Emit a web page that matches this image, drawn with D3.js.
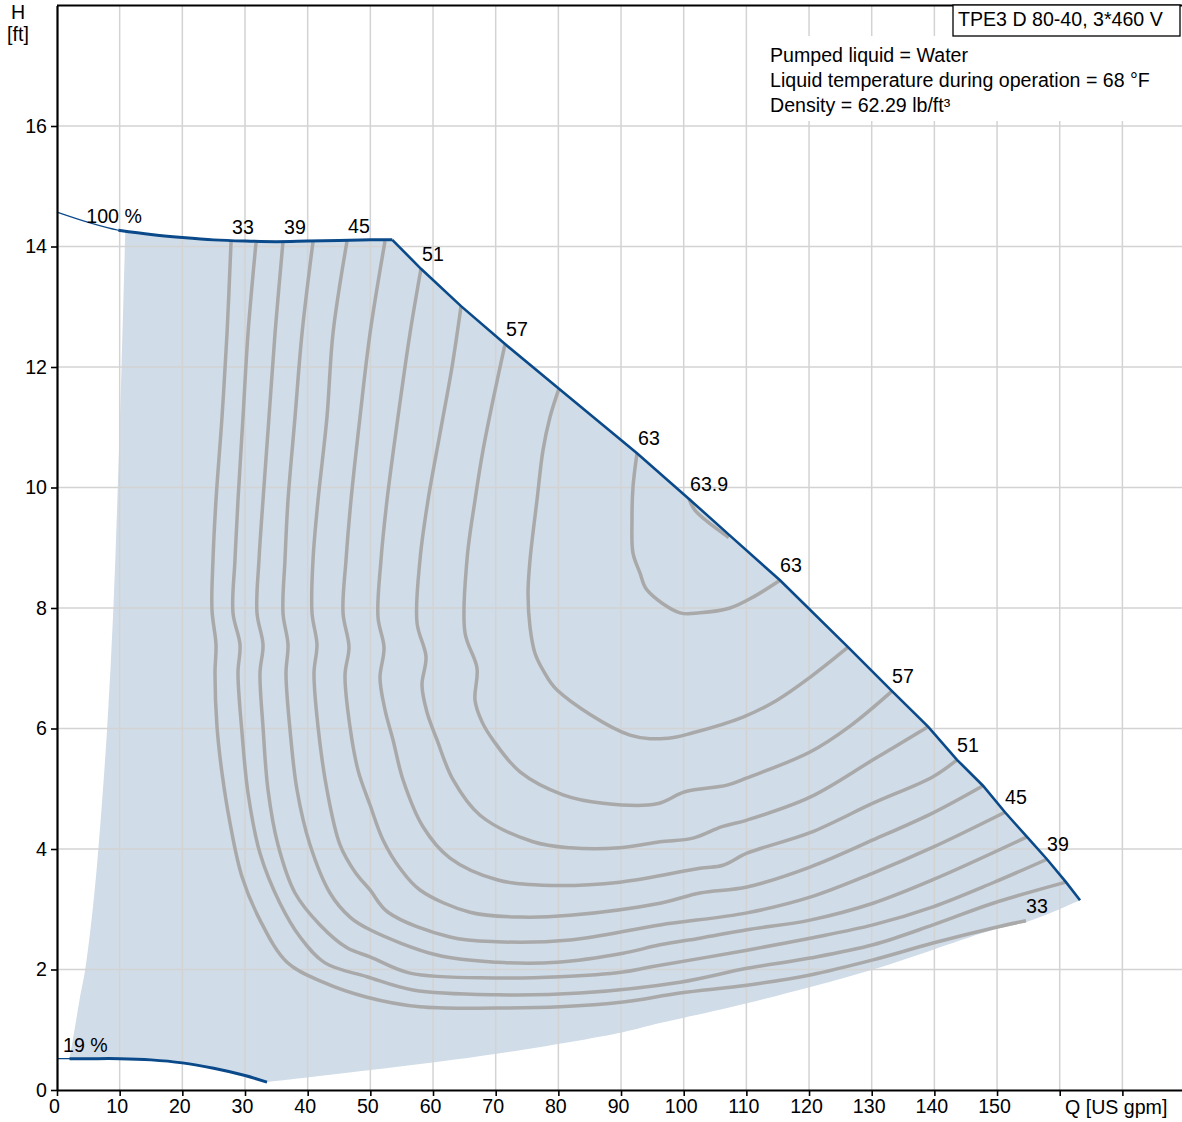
<!DOCTYPE html>
<html><head><meta charset="utf-8">
<script src="https://cdn.jsdelivr.net/npm/d3@7"></script>
<style>
html,body{margin:0;padding:0;background:#fff;}
svg{display:block;font-family:"Liberation Sans",Arial,sans-serif;}
</style></head><body>
<svg id="chart" width="1182" height="1122"></svg>
<script>
// ---------- data ----------
const xTicks = [0,10,20,30,40,50,60,70,80,90,100,110,120,130,140,150,160,170];
const xTickLabels = ["0","10","20","30","40","50","60","70","80","90","100","110","120","130","140","150","",""];
const yTicks = [0,2,4,6,8,10,12,14,16];
const xGrid = [10,20,30,40,50,60,70,80,90,100,110,120,130,140,150,160,170];
const yGrid = [2,4,6,8,10,12,14,16];

// 100 % speed curve (Q [US gpm], H [ft])
const speed100 = [[0,14.57],[5,14.40],[9.8,14.27],[15,14.20],[20,14.15],[25,14.11],[30,14.09],[35,14.08],[40,14.09],[45,14.10],[50,14.11],[53.5,14.11]];
// max power limit
const maxLimit = [[53.5,14.11],[58.08,13.63],[64.47,13.01],[71.49,12.38],[80.10,11.64],[92.55,10.57],[100.85,9.81],[107.07,9.23],[115.37,8.46],[126.22,7.35],[133.24,6.62],[138.99,6.03],[143.61,5.48],[147.76,5.05],[151.27,4.61],[154.78,4.20],[157.97,3.83],[161.00,3.45],[163.24,3.15]];
// 19 % speed curve
const speed19 = [[0,0.52],[2,0.52],[5,0.52],[10,0.52],[15,0.50],[20,0.45],[25,0.36],[30,0.24],[33.5,0.13]];
// minimum flow edge of operating area (bottom to top)
const minFlow = [[2.0,0.52],[2.8,1.0],[3.6,1.5],[4.5,2.0],[5.7,3.0],[6.6,4.0],[8.0,6.0],[9.0,8.0],[9.7,10.0],[10.3,12.0],[10.9,14.25]];
// lower edge of operating area (right to left)
const lowerEdge = [[163.24,3.15],[155,2.80],[149.4,2.66],[130.2,2.00],[110.1,1.44],[96.2,1.11],[90.3,0.96],[70.7,0.61],[50,0.33],[33.5,0.13]];

// efficiency contours [%]
const eff33 = [[27.77,14.08],[27.13,12.56],[26.33,11.17],[25.37,9.79],[24.89,8.80],[24.73,7.97],[25.37,7.39],[25.21,6.92],[25.53,6.03],[26.33,5.26],[27.61,4.43],[29.52,3.54],[32.39,2.82],[36.70,2.12],[42.45,1.79],[49.47,1.54],[57.92,1.38],[70.21,1.36],[80.26,1.38],[90.32,1.46],[99.41,1.61],[110.10,1.74],[120.16,1.91],[130.21,2.16],[139.78,2.44],[149.36,2.69],[154.62,2.81]];
const eff36 = [[31.75,14.06],[30.48,12.56],[29.68,11.17],[28.88,9.79],[28.40,8.80],[28.08,7.92],[29.20,7.39],[28.88,6.92],[29.52,5.93],[30.48,4.93],[32.39,3.93],[35.58,3.10],[38.78,2.54],[42.76,2.11],[49.47,1.88],[56.81,1.66],[70.21,1.58],[83.46,1.61],[99.41,1.79],[110.10,2.02],[120.16,2.19],[130.21,2.41],[139.78,2.74],[149.36,3.10],[161.00,3.45]];
const eff39 = [[36.06,14.08],[34.79,12.56],[33.83,11.17],[32.87,9.79],[32.23,8.80],[31.91,7.92],[32.87,7.39],[32.39,6.92],[32.87,6.03],[33.67,4.98],[35.26,4.07],[37.98,3.27],[41.97,2.74],[46.28,2.36],[49.95,2.21],[56.33,1.94],[70.21,1.86],[80.26,1.88],[90.32,1.96],[94.62,2.04],[110.10,2.32],[120.16,2.52],[130.21,2.74],[139.78,3.04],[149.36,3.44],[157.97,3.83]];
const eff42 = [[40.85,14.08],[39.10,12.56],[37.98,11.17],[36.86,9.79],[36.38,8.80],[36.06,7.92],[36.86,7.39],[36.54,6.92],[37.18,5.98],[38.30,4.98],[40.37,4.07],[43.56,3.27],[46.75,2.87],[49.95,2.66],[60.64,2.24],[70.21,2.12],[79.79,2.12],[90.32,2.27],[96.22,2.41],[102.60,2.52],[110.10,2.66],[120.16,2.82],[130.21,3.10],[139.78,3.49],[154.78,4.20]];
const eff45 = [[46.28,14.09],[44.04,12.56],[43.08,11.17],[41.65,9.79],[40.85,8.80],[40.69,7.92],[41.48,7.39],[41.01,6.92],[41.65,6.03],[43.08,4.98],[45.16,4.07],[47.55,3.62],[49.95,3.32],[52.82,2.95],[62.71,2.54],[70.21,2.46],[81.86,2.49],[96.22,2.74],[110.10,2.94],[120.16,3.20],[130.21,3.60],[139.78,4.03],[151.27,4.61]];
const eff48 = [[52.34,14.09],[49.95,12.56],[48.35,11.17],[46.91,9.79],[46.12,8.80],[45.64,7.92],[46.59,7.35],[45.96,6.89],[46.75,6.03],[48.03,5.31],[49.95,4.73],[52.02,4.15],[54.73,3.68],[57.92,3.32],[65.90,2.95],[73.88,2.87],[81.86,2.90],[96.22,3.10],[102.60,3.27],[110.10,3.37],[120.16,3.70],[130.21,4.15],[139.78,4.60],[147.76,5.05]];
const eff51 = [[58.08,13.63],[56.33,12.56],[54.41,11.17],[52.66,9.79],[51.70,8.80],[51.22,7.85],[52.18,7.34],[51.54,6.84],[52.34,6.31],[53.62,5.81],[55.21,5.15],[58.40,4.37],[62.71,3.85],[70.21,3.49],[77.55,3.40],[89.84,3.45],[102.60,3.68],[106.27,3.73],[110.10,3.93],[120.16,4.27],[130.21,4.76],[139.78,5.20],[143.61,5.48]];
const eff54 = [[64.47,13.01],[63.03,12.00],[61.12,10.90],[59.20,9.79],[57.92,8.80],[57.45,7.75],[58.88,7.19],[58.24,6.72],[59.04,6.27],[60.64,5.81],[63.19,5.15],[67.50,4.56],[75.96,4.12],[81.86,4.02],[89.84,4.02],[96.22,4.12],[101.49,4.18],[106.11,4.37],[110.10,4.48],[120.16,4.86],[130.21,5.48],[138.99,6.03]];
const eff57 = [[71.49,12.38],[69.57,11.45],[67.98,10.62],[66.70,9.79],[65.42,8.80],[65.10,7.59],[67.02,7.00],[66.70,6.47],[67.82,6.11],[69.57,5.81],[73.88,5.28],[80.74,4.90],[87.13,4.76],[95.74,4.75],[100.21,4.95],[106.91,5.06],[110.10,5.18],[120.16,5.61],[126.54,6.04],[133.24,6.62]];
const eff60 = [[80.10,11.64],[78.67,11.17],[77.55,10.62],[76.59,9.79],[75.48,8.80],[75.16,8.25],[75.48,7.68],[76.27,7.25],[77.55,6.97],[79.79,6.64],[91.43,5.89],[97.50,5.84],[101.49,5.93],[109.47,6.19],[114.89,6.47],[120.16,6.85],[126.22,7.35]];
const eff63 = [[92.55,10.57],[91.91,10.01],[91.75,9.46],[91.91,8.91],[93.03,8.58],[94.14,8.30],[99.41,7.92],[102.60,7.92],[107.39,8.00],[111.06,8.18],[115.37,8.46]];
const eff639 = [[100.85,9.81],[101.81,9.62],[107.2,9.17]];

const contourLevels = ["33","36","39","42","45","48","51","54","57","60","63","63.9"];
const contourData = [eff33,eff36,eff39,eff42,eff45,eff48,eff51,eff54,eff57,eff60,eff63,eff639];
const labelAtStart = ["33","39","45","51","57","63","63.9"];
const labelAtEnd = ["63","57","51","45","39","33"];

const titleText = "TPE3 D 80-40, 3*460 V";
const infoLines = ["Pumped liquid = Water","Liquid temperature during operation = 68 °F","Density = 62.29 lb/ft³"];

// ---------- drawing ----------
const svg = d3.select("#chart");
const FS = 19.6;
const x = d3.scaleLinear().domain([0,180]).range([57, 57 + 180*6.267]);
const y = d3.scaleLinear().domain([0,18]).range([1090, 1090 - 18*60.25]);

const cr = d3.curveCatmullRom.alpha(0.5);
const lineCR = d3.line().x(d=>x(d[0])).y(d=>y(d[1])).curve(cr);
const lineLin = d3.line().x(d=>x(d[0])).y(d=>y(d[1]));

// operating area fill
const topPart = speed100.filter(d=>d[0] >= 10.9);
const piece = (pts, gen) => gen(pts).replace(/^M/, "L");
const areaPath = lineCR(minFlow)
  + piece([[10.9,14.25]].concat(topPart), lineCR)
  + piece(maxLimit, lineLin)
  + piece(lowerEdge, lineCR)
  + piece(speed19.filter(d=>d[0] >= 2).slice().reverse(), lineCR) + "Z";
svg.append("path").attr("d", areaPath).attr("fill", "#d0dce8").attr("stroke","none");

// grid
const grid = svg.append("g").attr("stroke","#d3d3d3").attr("stroke-width",1.5);
grid.selectAll("line.v").data(xGrid).join("line").attr("class","v")
  .attr("x1",d=>x(d)).attr("x2",d=>x(d)).attr("y1",y(0)).attr("y2",y(18));
grid.selectAll("line.h").data(yGrid).join("line").attr("class","h")
  .attr("x1",x(0)).attr("x2",1182).attr("y1",d=>y(d)).attr("y2",d=>y(d));

// contours
svg.append("g").selectAll("path").data(contourData).join("path")
  .attr("d", d=>lineCR(d)).attr("fill","none").attr("stroke","#a9a9a9")
  .attr("stroke-width",3.5).attr("stroke-linejoin","round");

// speed curves & limit
const blue = "#0b4a8a";
svg.append("path").attr("d", lineCR(speed100)).attr("fill","none").attr("stroke",blue).attr("stroke-width",1.2);
svg.append("path").attr("d", lineCR(speed100.filter(d=>d[0]>=9.8))).attr("fill","none").attr("stroke",blue).attr("stroke-width",3);
svg.append("path").attr("d", lineLin(maxLimit)).attr("fill","none").attr("stroke",blue).attr("stroke-width",2.6);
svg.append("path").attr("d", lineCR(speed19)).attr("fill","none").attr("stroke",blue).attr("stroke-width",1.2);
svg.append("path").attr("d", lineCR(speed19.filter(d=>d[0]>=2))).attr("fill","none").attr("stroke",blue).attr("stroke-width",3);

// contour labels
const labG = svg.append("g").attr("font-size",FS).attr("fill","#000");
contourLevels.forEach((lv,i)=>{
  const pts = contourData[i];
  if (labelAtStart.includes(lv)) {
    const p = pts[0];
    labG.append("text").attr("x", x(p[0])+1).attr("y", y(p[1])-8).text(lv);
  }
  if (labelAtEnd.includes(lv)) {
    const p = pts[pts.length-1];
    labG.append("text").attr("x", x(p[0])).attr("y", y(p[1])-8).text(lv);
  }
});
labG.append("text").attr("x", x(speed100[1][0])-2).attr("y", y(speed100[1][1])+1).text("100 %");
labG.append("text").attr("x", x(speed19[0][0])+6).attr("y", y(speed19[0][1])-7).text("19 %");

// axes
const yAxis = d3.axisLeft(y).tickValues(yTicks).tickSize(6).tickSizeOuter(0).tickPadding(4).tickFormat(d3.format("d"));
const gy = svg.append("g").attr("transform",`translate(${x(0)},0)`).call(yAxis);
const xAxis = d3.axisBottom(x).tickValues(xTicks).tickSize(6).tickSizeOuter(0).tickPadding(3)
  .tickFormat((d,i)=>xTickLabels[i]);
const gx = svg.append("g").attr("transform",`translate(0,${y(0)})`).call(xAxis);
[gx, gy].forEach(g=>{
  g.attr("font-size",FS).attr("font-family",null);
  g.select(".domain").attr("stroke","#000").attr("stroke-width",2.2);
  g.selectAll(".tick line").attr("stroke","#000").attr("stroke-width",1.6);
  g.selectAll(".tick text").attr("fill","#000");
});
gx.selectAll(".tick text").attr("dx",-3);
// top frame line
svg.append("line").attr("x1",x(0)).attr("x2",1182).attr("y1",y(18)).attr("y2",y(18)).attr("stroke","#000").attr("stroke-width",2);

// axis titles
svg.append("text").attr("x",18).attr("y",19).attr("text-anchor","middle").attr("font-size",FS).text("H");
svg.append("text").attr("x",18).attr("y",41).attr("text-anchor","middle").attr("font-size",FS).text("[ft]");
svg.append("text").attr("x",1065).attr("y",1114).attr("font-size",FS).text("Q [US gpm]");

// info block
svg.append("rect").attr("x",758).attr("y",36).attr("width",424).attr("height",85).attr("fill","#fff");
svg.selectAll("text.info").data(infoLines).join("text").attr("class","info")
  .attr("x",770).attr("y",(d,i)=>62+i*25).attr("font-size",FS).text(d=>d);
svg.append("rect").attr("x",953).attr("y",5).attr("width",227).attr("height",31)
  .attr("fill","#fff").attr("stroke","#000").attr("stroke-width",1.3);
svg.append("text").attr("x",958).attr("y",25.5).attr("font-size",FS).text(titleText);
</script>
</body></html>
